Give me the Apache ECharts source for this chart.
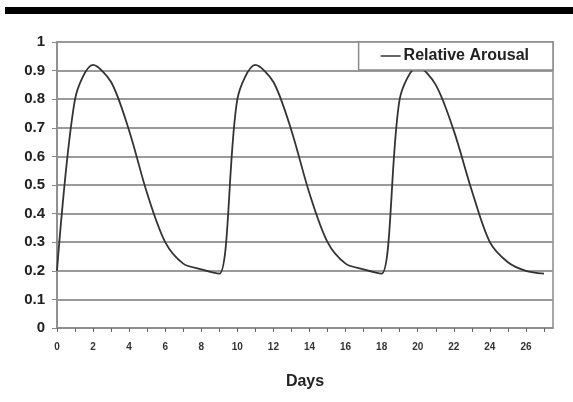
<!DOCTYPE html>
<html>
<head>
<meta charset="utf-8">
<script src="https://cdn.jsdelivr.net/npm/echarts@6/dist/echarts.min.js"></script>
<style>
html,body{margin:0;padding:0;background:#fff;}
#chart{width:573px;height:402px;}
</style>
</head>
<body>
<div id="chart"></div>
<script>
var days = [0,1,2,3,4,5,6,7,8,9,10,11,12,13,14,15,16,17,18,19,20,21,22,23,24,25,26,27];
var arousal = [0.2,0.8,0.92,0.86,0.69,0.47,0.3,0.225,0.205,0.19,
               0.8,0.92,0.86,0.69,0.47,0.3,0.225,0.205,0.19,
               0.8,0.915,0.85,0.69,0.48,0.3,0.23,0.2,0.19];
var seriesName = 'Relative Arousal';
var xTitle = 'Days';

var chart = echarts.init(document.getElementById('chart'));
var pts = days.map(function(d,i){return [d, arousal[i]];});
var font = 'Arial, "Liberation Sans", sans-serif';
chart.setOption({
  backgroundColor:'#fff',
  animation:false,
  graphic:[{type:'rect', shape:{x:5,y:7,width:568,height:7}, style:{fill:'#000'}}],
  grid:{left:57,right:20,top:42,bottom:74,show:true,borderColor:'#8a8a8a',borderWidth:1.5,backgroundColor:'#fff'},
  legend:{
    right:20, top:42, orient:'horizontal',
    backgroundColor:'#fff', borderColor:'#8a8a8a', borderWidth:1.5,
    padding:[6,24,6,22], itemGap:0,
    icon:'rect', itemWidth:20, itemHeight:1.5,
    textStyle:{fontFamily:font,fontWeight:'bold',fontSize:16,color:'#222',padding:[0,0,0,-2]},
    data:[seriesName]
  },
  xAxis:{
    type:'value', min:0, max:27.5, interval:1,
    name:xTitle, nameLocation:'middle', nameGap:46,
    nameTextStyle:{fontFamily:font,fontWeight:'bold',fontSize:16,color:'#222'},
    axisLine:{lineStyle:{color:'#8a8a8a',width:1.5}},
    axisTick:{show:true,length:4,lineStyle:{color:'#666'}},
    splitLine:{show:false},
    axisLabel:{margin:14,fontFamily:font,fontWeight:'bold',fontSize:10,color:'#333',
      showMaxLabel:false,
      formatter:function(v){return (v%2===0 && v<=26)? String(v):'';}}
  },
  yAxis:{
    type:'value', min:0, max:1, interval:0.1,
    axisLine:{show:true,lineStyle:{color:'#8a8a8a',width:1.5}},
    axisTick:{show:true,length:5,lineStyle:{color:'#8a8a8a'}},
    splitLine:{show:true,lineStyle:{color:'#9a9a9a',width:2}},
    axisLabel:{margin:12,fontFamily:font,fontWeight:'bold',fontSize:15,color:'#222',
      formatter:function(v){return v===0?'0':(v===1?'1':v.toFixed(1));}}
  },
  series:[{
    name:seriesName, type:'line', data:pts, smooth:0.3,
    showSymbol:false, symbol:'none',
    lineStyle:{color:'#333',width:1.8},
    itemStyle:{color:'#333'}
  }]
});
</script>
</body>
</html>
